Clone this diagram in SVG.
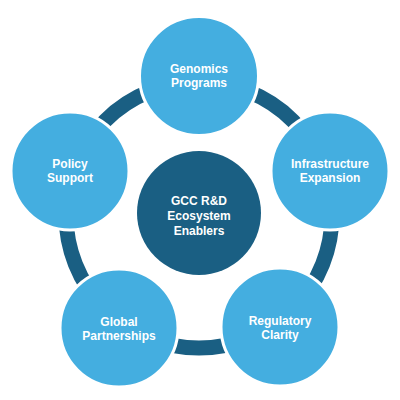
<svg xmlns="http://www.w3.org/2000/svg" width="400" height="400" viewBox="0 0 400 400">
<style>
.ring{fill:none;stroke:#1A5F83;stroke-width:15}
.hub{fill:#1A5F83}
.node{fill:#44AEE0;stroke:#FFFFFF;stroke-width:3}
.t{font-family:"Liberation Sans",Arial,sans-serif;font-weight:bold;font-size:12px;fill:#FFFFFF;text-anchor:middle}
</style>
<rect width="400" height="400" fill="#FFFFFF"/>
<g id="connectors">
<circle class="ring" cx="199" cy="215" r="133"/>
</g>
<g id="hub">
<circle class="hub" cx="199" cy="213" r="62"/>
<text class="t" x="199" y="204.5">GCC R&amp;D</text>
<text class="t" x="199" y="219.5">Ecosystem</text>
<text class="t" x="199" y="234.5">Enablers</text>
</g>
<g id="genomics">
<circle class="node" cx="199" cy="76" r="59.5"/>
<text class="t" x="199" y="72.5">Genomics</text>
<text class="t" x="199" y="86.5">Programs</text>
</g>
<g id="infrastructure">
<circle class="node" cx="330" cy="171" r="59"/>
<text class="t" x="330" y="168">Infrastructure</text>
<text class="t" x="330" y="182">Expansion</text>
</g>
<g id="regulatory">
<circle class="node" cx="280" cy="327" r="59"/>
<text class="t" x="280" y="324.5">Regulatory</text>
<text class="t" x="280" y="338.5">Clarity</text>
</g>
<g id="global">
<circle class="node" cx="119" cy="328" r="59"/>
<text class="t" x="119" y="325.5">Global</text>
<text class="t" x="119" y="339.5">Partnerships</text>
</g>
<g id="policy">
<circle class="node" cx="70" cy="171" r="59"/>
<text class="t" x="70" y="168">Policy</text>
<text class="t" x="70" y="182">Support</text>
</g>
</svg>
